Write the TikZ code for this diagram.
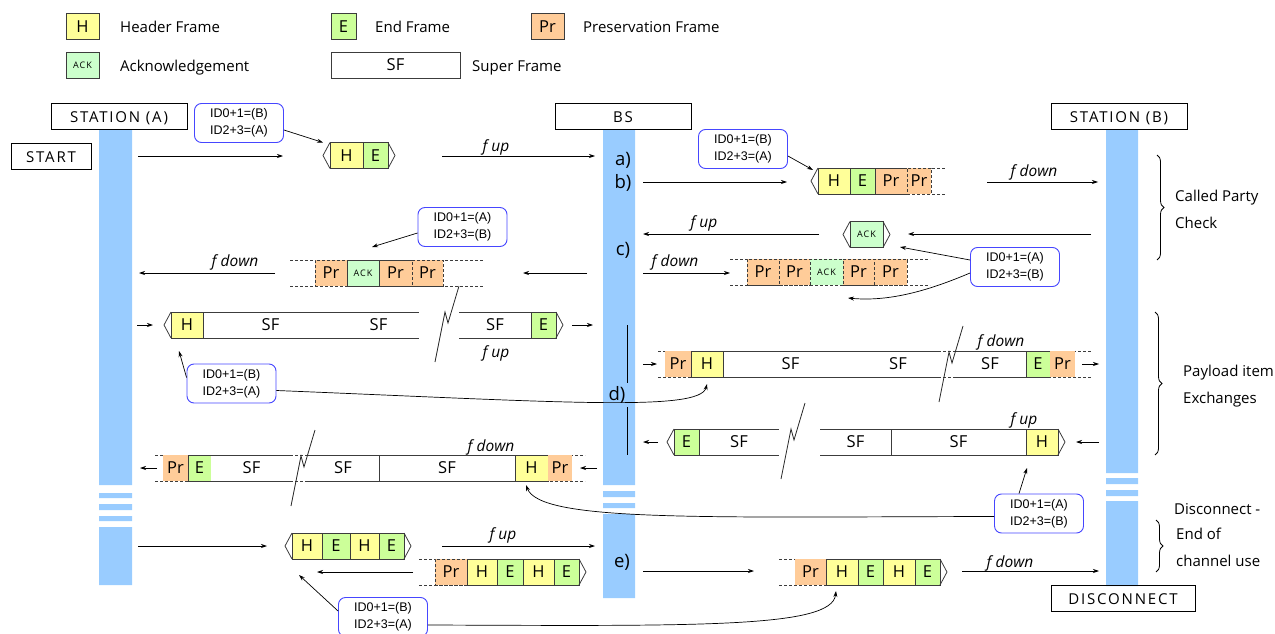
\documentclass[tikz,border=0pt]{standalone}
\usepackage{fontspec}
\setmainfont{Open Sans}
\newfontfamily\idfont{Liberation Sans}
\newfontfamily\capfont{Open Sans}[LetterSpace=12]
\usetikzlibrary{arrows.meta,decorations.pathreplacing,calc}
\definecolor{cY}{HTML}{FFFF99}
\definecolor{cG}{HTML}{CCFF99}
\definecolor{cO}{HTML}{FFCC99}
\definecolor{cAk}{HTML}{CCFFCC}
\definecolor{barblue}{HTML}{99CCFF}
\definecolor{idblue}{RGB}{70,70,255}
\definecolor{cline}{RGB}{60,60,60}
\newcommand\fcell{\fontsize{16.5}{16.5}\selectfont}
\newcommand\flab{\fontsize{15}{17}\selectfont}
\newcommand\fcap{\capfont\fontsize{15}{17}\selectfont}
\newcommand\fid{\idfont\fontsize{12.5}{17}\selectfont}
\newcommand\fack{\capfont\fontsize{9}{9}\selectfont}
\newcommand\fit{\itshape\fontsize{15.5}{17}\selectfont}
\newcommand\fstep{\fontsize{18.5}{18.5}\selectfont}
\newcommand\cel[6]{\node[#5, minimum width={#3-#2}] (#1) at ({(#2+#3)/2},#4) {#6};}
\newcommand\flow[4]{\coordinate (#1s) at (#2,#4); \coordinate (#1e) at (#3,#4); \draw[arr] (#1s) -- (#1e);}
\newcommand\ptl[1]{\draw[ptr] (#1.north west) -- ++(-7,13) -- (#1.south west);}
\newcommand\ptr[1]{\draw[ptr] (#1.north east) -- ++(7,13) -- (#1.south east);}
\newcommand\openbox[1]{\draw[ptr] (#1.north west) -- (#1.north east) (#1.south west) -- (#1.south east);}
\newcommand\guides[3]{\draw[ptr,dsh] (#1,#3-13) -- (#2,#3-13) (#1,#3+13) -- (#2,#3+13);}
\newcommand\bolt[2]{\draw[boltst] (#1-12,#2+38) -- (#1-2,#2-12) -- (#1+1,#2-1) -- (#1+12,#2-38);}
\tikzset{
 cell/.style={inner sep=0, outer sep=0, minimum height=26, font=\fcell, line width=0.8, draw=cline, text height=11.5, text depth=0},
 cH/.style={cell, fill=cY},
 cE/.style={cell, fill=cG},
 cP/.style={cell, fill=cO},
 cA/.style={cell, fill=cAk, font=\fack, text height=6.5},
 cS/.style={cell, fill=white},
 nob/.style={draw=none},
 dsh/.style={dash pattern=on 3pt off 2pt},
 dcell/.style={dash pattern=on 3pt off 2pt},
 idbox/.style={draw=idblue, line width=0.9, rounded corners=7, fill=white, minimum width=89, minimum height=39, inner sep=0, align=left, font=\fid},
 stn/.style={draw=black, line width=0.8, inner sep=0, minimum height=26, font=\fcap, text height=12, text depth=0},
 arr/.style={-{Stealth[length=6,width=4]}, line width=0.7},
 ptr/.style={draw=cline, line width=0.8},
 lbl/.style={inner sep=0, font=\flab, anchor=west, text height=12, text depth=0},
 fl/.style={inner sep=0, font=\fit},
 stp/.style={inner sep=0, font=\fstep},
 boltst/.style={line width=0.8, draw=black!85},
 brc/.style={decorate, decoration={brace, amplitude=7}, line width=0.8},
}
\begin{document}
\begin{tikzpicture}[x=1pt,y=-1pt]
\useasboundingbox (0,0) rectangle (1275,634);
% legend
\cel{lgH}{66}{99}{26.5}{cH}{H}
\node[lbl] (lgHt) at (120,27) {Header Frame};
\cel{lgE}{331}{356}{26.5}{cE}{E}
\node[lbl] (lgEt) at (375,27) {End Frame};
\cel{lgP}{531}{564}{26.5}{cP}{Pr}
\node[lbl] (lgPt) at (583,27) {Preservation Frame};
\cel{lgA}{66}{99}{65}{cA}{ACK}
\node[lbl] (lgAt) at (120,65) {Acknowledgement};
\cel{lgS}{331}{460}{65}{cS}{SF}
\node[lbl] (lgSt) at (472,65) {Super Frame};
% bars
\fill[barblue] (99,130) rectangle (132,485) (99,493) rectangle (132,498) (99,504) rectangle (132,510) (99,516) rectangle (132,521) (99,527) rectangle (132,585);
\fill[barblue] (603,130) rectangle (635,485) (603,491) rectangle (635,497) (603,503) rectangle (635,508) (603,514) rectangle (635,598);
\fill[barblue] (1106,130) rectangle (1138,473) (1106,478) rectangle (1138,484) (1106,490) rectangle (1138,496) (1106,501) rectangle (1138,586);
% stations
\node[stn, minimum width=136] (stA) at (119,116.5) {STATION (A)};
\node[stn, minimum width=136] (bs) at (623,116.5) {BS};
\node[stn, minimum width=136] (stB) at (1119,116.5) {STATION (B)};
\node[stn, minimum width=80] (start) at (51,156) {START};
\node[stn, minimum width=144] (disc) at (1123,598.5) {DISCONNECT};
% step labels
\node[stp] (sa) at (623,160) {a)};
\node[stp] (sb) at (623,183) {b)};
\node[stp] (sc) at (623,250) {c)};
\node[stp] (sd) at (617,395) {d)};
\node[stp] (se) at (622,562) {e)};
\draw[line width=0.8] (627,325) -- (627,383) (627,407) -- (627,455);
% row 1
\flow{r1}{138}{283}{156}
\cel{r1H}{330}{363}{155.5}{cH}{H}
\cel{r1E}{363}{388}{155.5}{cE}{E}
\ptl{r1H} \ptr{r1E}
\flow{r1b}{442}{595}{156}
\node[fl] (f1) at (496,147) {f up};
\node[idbox] (id1) at (239,123) {ID0+1=(B)\\ID2+3=(A)};
\draw[arr] ([yshift=-7]id1.east) -- ($(r1H.north west)+(-7,0)$);
% row b
\flow{rb}{643}{787}{182}
\guides{907}{946}{181}
\cel{rbH}{818}{850}{181}{cH}{H}
\cel{rbE}{850}{875}{181}{cE}{E}
\cel{rbP}{875}{907}{181}{cP}{Pr}
\cel{rbQ}{907}{931}{181}{cP,dcell}{Pr}
\ptl{rbH}
\flow{rbb}{987}{1098}{182}
\node[fl] (f2) at (1034,172) {f down};
\node[idbox] (id2) at (743,149) {ID0+1=(B)\\ID2+3=(A)};
\draw[arr] ([yshift=-7]id2.east) -- ($(rbH.north west)+(-5,2)$);
% row c top
\cel{rcA}{850}{883}{234.5}{cA}{ACK}
\ptl{rcA} \ptr{rcA}
\flow{rc1}{1091}{908}{234}
\flow{rc2}{819}{643}{234}
\node[fl] (f3) at (704,223) {f up};
\node[idbox] (id3) at (1015,267) {ID0+1=(A)\\ID2+3=(B)};
\draw[arr] ([yshift=7]id3.west) -- (900,247);
\draw[arr] ([yshift=-6]id3.west) .. controls (930,290) and (890,302) .. (848,298);
% row c2 right
\guides{730}{930}{272}
\cel{rcP1}{747}{779}{272}{cP,dcell}{Pr}
\cel{rcP2}{779}{810}{272}{cP,dcell}{Pr}
\cel{rcA2}{810}{843}{272}{cA,dcell}{ACK}
\cel{rcP3}{843}{874}{272}{cP,dcell}{Pr}
\cel{rcP4}{874}{907}{272}{cP,dcell}{Pr}
\flow{rc3}{643}{730}{273}
\node[fl] (f4) at (675,262) {f down};
% row c2 left
\guides{290}{483}{273}
\cel{lcP1}{315}{347}{273}{cP,dcell}{Pr}
\cel{lcA}{347}{379}{273}{cA}{ACK}
\cel{lcP2}{379}{412}{273}{cP}{Pr}
\cel{lcP3}{412}{443}{273}{cP,dcell}{Pr}
\flow{rc4}{587}{523}{273}
\flow{rc5}{275}{139}{273}
\node[fl] (f5) at (235,262) {f down};
\node[idbox] (id4) at (462.5,227) {ID0+1=(A)\\ID2+3=(B)};
\draw[arr] ([yshift=-6]id4.west) -- (372,247);
% row d1
\flow{rd1}{137}{153}{325}
\cel{d1H}{171}{203}{325}{cH}{H}
\cel{d1S1}{203}{338}{325}{cS}{SF}
\cel{d1S2}{338}{419}{325}{cS,nob}{SF}
\openbox{d1S2}
\cel{d1S3}{459}{531}{325}{cS,nob}{SF}
\openbox{d1S3}
\cel{d1E}{531}{556}{325}{cE}{E}
\ptl{d1H} \ptr{d1E}
\bolt{447}{324}
\flow{rd1b}{572}{593}{325}
\node[fl] (f6) at (496,353) {f up};
\node[idbox] (id5) at (231.5,383.5) {ID0+1=(B)\\ID2+3=(A)};
\draw[arr] ([yshift=6]id5.west) -- (179,351);
% row d2
\flow{rd2}{643}{657}{364}
\guides{658}{1091}{364}
\cel{d2P1}{665}{691}{364}{cP,nob}{Pr}
\cel{d2H}{691}{723}{364}{cH}{H}
\cel{d2S1}{723}{858}{364}{cS}{SF}
\cel{d2S2}{858}{938}{364}{cS,nob}{SF}
\openbox{d2S2}
\cel{d2S3}{954}{1026}{364}{cS,nob}{SF}
\openbox{d2S3}
\cel{d2E}{1026}{1050}{364}{cE}{E}
\cel{d2P2}{1050}{1075}{364}{cP,nob}{Pr}
\bolt{951}{364}
\flow{rd2b}{1082}{1099}{364}
\node[fl] (f7) at (1001,342) {f down};
\draw[arr] ([yshift=-7]id5.east) .. controls (560,402) and (700,412) .. ($(d2H.south west)+(16,7)$);
% row d3
\flow{rd3}{1099}{1076}{442}
\cel{d3H}{1026}{1058}{442}{cH}{H}
\cel{d3S1}{891}{1026}{442}{cS}{SF}
\cel{d3S2}{820}{891}{442}{cS,nob}{SF}
\openbox{d3S2}
\cel{d3S3}{699}{779}{442}{cS,nob}{SF}
\openbox{d3S3}
\cel{d3E}{674}{699}{442}{cE}{E}
\ptr{d3H} \ptl{d3E}
\bolt{793}{441}
\flow{rd3b}{658}{643}{442}
\node[fl] (f8) at (1024,420) {f up};
\node[idbox] (id6) at (1039,513.5) {ID0+1=(A)\\ID2+3=(B)};
\draw[arr] ([xshift=-20]id6.north) -- ($(d3H.south west)+(1,13)$);
% row d4
\flow{rd4}{597}{580}{468}
\guides{155}{585}{468}
\cel{d4P1}{163}{188}{468}{cP,nob}{Pr}
\cel{d4E}{188}{211}{468}{cE}{E}
\cel{d4S1}{211}{292}{468}{cS,nob}{SF}
\openbox{d4S1}
\cel{d4S2}{307}{379}{468}{cS,nob}{SF}
\openbox{d4S2}
\cel{d4S3}{379}{515}{468}{cS}{SF}
\cel{d4H}{515}{548}{468}{cH}{H}
\cel{d4P2}{548}{572}{468}{cP,nob}{Pr}
\bolt{303}{468}
\flow{rd4b}{157}{140}{468}
\node[fl] (f9) at (491,447) {f down};
\draw[arr] ([yshift=-3]id6.west) .. controls (700,517) and (540,522) .. ($(d4H.south west)+(11,4)$);
% row e
\flow{re1}{138}{267}{546}
\cel{eH1}{292}{322}{546}{cH}{H}
\cel{eE1}{322}{350}{546}{cE}{E}
\cel{eH2}{350}{379}{546}{cH}{H}
\cel{eE2}{379}{404}{546}{cE}{E}
\ptl{eH1} \ptr{eE2}
\flow{re2}{442}{595}{546}
\node[fl] (f10) at (503,535) {f up};
% row e2
\flow{re3}{413}{317}{572}
\guides{419}{467}{572}
\cel{e2P}{435}{467}{572}{cP,dcell}{Pr}
\cel{e2H1}{467}{497}{572}{cH}{H}
\cel{e2E1}{497}{523}{572}{cE}{E}
\cel{e2H2}{523}{554}{572}{cH}{H}
\cel{e2E2}{554}{579}{572}{cE}{E}
\ptr{e2E2}
\node[idbox] (id7) at (383,617) {ID0+1=(B)\\ID2+3=(A)};
\draw[arr] ([yshift=6]id7.west) -- (299,575);
% row e right
\flow{re4}{643}{754}{571}
\guides{779}{832}{572}
\cel{e3P}{795}{826}{572}{cP,nob}{Pr}
\cel{e3H1}{826}{858}{572}{cH}{H}
\cel{e3E1}{858}{883}{572}{cE}{E}
\cel{e3H2}{883}{915}{572}{cH}{H}
\cel{e3E2}{915}{940}{572}{cE}{E}
\ptr{e3E2}
\flow{re5}{962}{1099}{571}
\node[fl] (f11) at (1010,563) {f down};
\draw[arr] ([yshift=-8]id7.east) .. controls (700,626) and (832,628) .. ($(e3H1.south west)+(10,6)$);
% braces
\draw[brc] (1157,155) -- (1157,260);
\node[lbl] (bt1) at (1175,195) {Called Party};
\node[lbl] (bt2) at (1175,222) {Check};
\draw[brc] (1155,312) -- (1155,455);
\node[lbl] (bt3) at (1183,370) {Payload item};
\node[lbl] (bt4) at (1183,397) {Exchanges};
\draw[brc] (1156,520) -- (1156,572);
\node[lbl] (bt5) at (1174,508) {Disconnect -};
\node[lbl] (bt6) at (1176,533) {End of};
\node[lbl] (bt7) at (1176,560) {channel use};
\end{tikzpicture}
\end{document}
